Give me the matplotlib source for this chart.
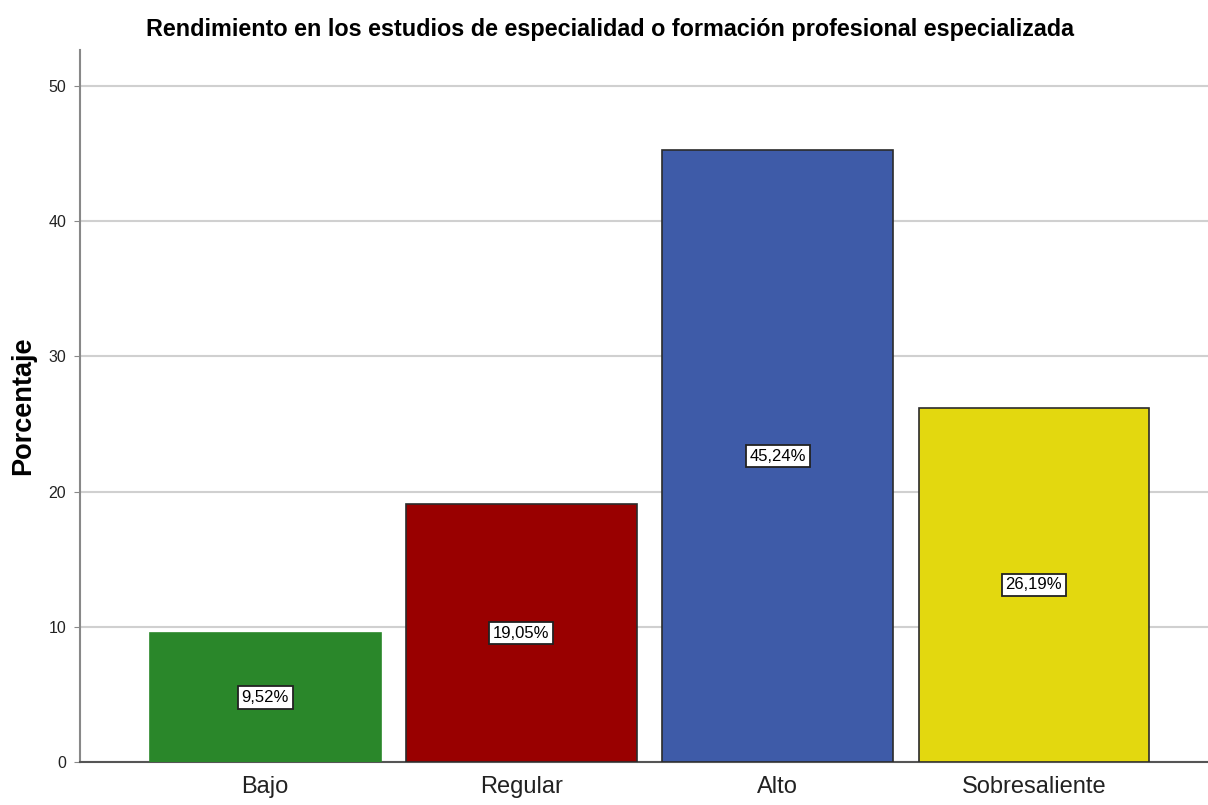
import matplotlib
matplotlib.use('Agg')
import matplotlib.pyplot as plt

categories = ['Bajo', 'Regular', 'Alto', 'Sobresaliente']
percentages = [9.52, 19.05, 45.24, 26.19]
value_labels = ['9,52%', '19,05%', '45,24%', '26,19%']
bar_colors = ['#2a872a', '#990000', '#3e5ba8', '#e3d80f']
edge_colors = ['#2a872a', '#2b2b2b', '#2b2b2b', '#2b2b2b']
yticks = [0, 10, 20, 30, 40, 50]

plt.rcParams['font.family'] = ['Liberation Sans', 'DejaVu Sans']

fig = plt.figure(figsize=(12.08, 8.05), dpi=100)
ax = fig.add_axes([80 / 1208, 43 / 805, 1128 / 1208, 712 / 805])

x = list(range(len(categories)))
ax.bar(x, percentages, width=0.9, color=bar_colors, edgecolor=edge_colors,
       linewidth=1.2, zorder=3)

# value labels in the middle of each bar
for xi, v, lab in zip(x, percentages, value_labels):
    ax.text(xi, v / 2, lab, ha='center', va='center', fontsize=12, zorder=4,
            bbox=dict(boxstyle='square,pad=0.22', fc='white', ec='#222222', lw=1.3))

ax.set_xlim(-0.723, 3.68)
ax.set_ylim(0, 52.66)
ax.set_yticks(yticks)
ax.set_yticklabels([str(t) for t in yticks], fontsize=11.5, color='#222222')
ax.set_xticks(x)
ax.set_xticklabels(categories, fontsize=17, color='#222222')
ax.tick_params(axis='x', length=0, pad=10)
ax.tick_params(axis='y', length=4, color='#888888', pad=6)

ax.yaxis.grid(True, color='#d0d0d0', linewidth=1.5, zorder=0)
ax.set_axisbelow(True)

for s in ['top', 'right']:
    ax.spines[s].set_visible(False)
ax.spines['left'].set_color('#888888')
ax.spines['left'].set_linewidth(1.5)
ax.spines['bottom'].set_color('#555555')
ax.spines['bottom'].set_linewidth(1.5)

ax.set_ylabel('Porcentaje', fontsize=19.5, fontweight='bold', labelpad=9)
fig.text(0.505, 0.963, 'Rendimiento en los estudios de especialidad o formación profesional especializada',
         ha='center', va='center', fontsize=16.8, fontweight='bold')

fig.savefig('out.png', dpi=100)
